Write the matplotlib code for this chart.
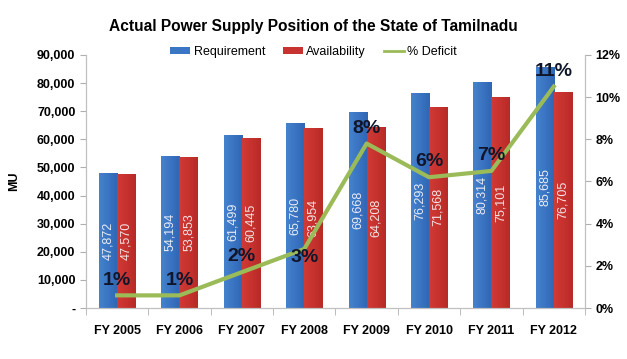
import matplotlib
matplotlib.use("Agg")
import matplotlib.pyplot as plt
import numpy as np
from matplotlib.ticker import FuncFormatter
from matplotlib.colors import LinearSegmentedColormap
from matplotlib.lines import Line2D
from matplotlib.patches import Patch

plt.rcParams['font.family'] = ['Liberation Sans', 'DejaVu Sans']

years = ["FY 2005", "FY 2006", "FY 2007", "FY 2008", "FY 2009", "FY 2010", "FY 2011", "FY 2012"]
requirement = [47872, 54194, 61499, 65780, 69668, 76293, 80314, 85685]
availability = [47570, 53853, 60445, 63954, 64208, 71568, 75101, 76705]
deficit_pct = [0.6, 0.6, 1.7, 2.8, 7.8, 6.2, 6.5, 10.5]
deficit_labels = ["1%", "1%", "2%", "3%", "8%", "6%", "7%", "11%"]

fig = plt.figure(figsize=(6.27, 3.59), dpi=100)
ax = fig.add_axes([0.137, 0.142, 0.796, 0.705])
ax2 = ax.twinx()
ax.set_zorder(1)
ax2.set_zorder(2)
ax.patch.set_visible(False)

x = np.arange(len(years))
w = 0.29
blue_cmap = LinearSegmentedColormap.from_list("b", ["#4582cd", "#3a74c2", "#3066b2"])
red_cmap = LinearSegmentedColormap.from_list("r", ["#d03b36", "#c7322e", "#b62b27"])
blue = "#3b76c4"
red = "#c9332f"
b1 = ax.bar(x - w/2, requirement, w, color="none", label="Requirement")
b2 = ax.bar(x + w/2, availability, w, color="none", label="Availability")

grad = np.linspace(0, 1, 64).reshape(1, -1)
for bars, cmap in ((b1, blue_cmap), (b2, red_cmap)):
    for bar in bars:
        x0, y0 = bar.get_x(), bar.get_y()
        im = ax.imshow(grad, cmap=cmap, aspect="auto", interpolation="bilinear",
                       extent=(x0, x0 + bar.get_width(), y0, y0 + bar.get_height()),
                       zorder=1)
        im.set_clip_path(bar)

for xi, v in zip(x - w/2, requirement):
    ax.text(xi, v/2, f"{v:,}", rotation=90, ha="center", va="center",
            color="#e8ecf5", fontsize=9, zorder=3)
for xi, v in zip(x + w/2, availability):
    ax.text(xi, v/2, f"{v:,}", rotation=90, ha="center", va="center",
            color="#f3e4e4", fontsize=9, zorder=3)

ax.set_ylim(0, 90000)
ax.set_yticks(np.arange(0, 90001, 10000))
ax.yaxis.set_major_formatter(FuncFormatter(lambda v, p: "-" if v == 0 else f"{int(v):,}"))
ax.set_xlim(-0.5, len(years) - 0.5)
ax.set_xticks(x)
ax.set_xticklabels(years)
ax.set_xticks(np.arange(-0.5, len(years)), minor=True)
ax.tick_params(axis="x", which="major", length=0, pad=12)
ax.tick_params(axis="x", which="minor", length=5, color="#b0b0b0")
ax.tick_params(axis="y", length=4, color="#b0b0b0")
for lab in ax.get_xticklabels() + ax.get_yticklabels():
    lab.set_fontweight("bold")
    lab.set_fontsize(9)
ax.set_ylabel("MU", fontweight="bold", fontsize=9, labelpad=12)

l, = ax2.plot(x, deficit_pct, color="#9bbb59", lw=3.0, label="% Deficit")
ax2.set_ylim(0, 12)
ax2.set_yticks(np.arange(0, 13, 2))
ax2.yaxis.set_major_formatter(FuncFormatter(lambda v, p: f"{int(v)}%"))
ax2.tick_params(axis="y", length=4, color="#b0b0b0", labelsize=9)
for lab in ax2.get_yticklabels():
    lab.set_fontweight("bold")

label_dy = [11, 11, 11, -6, 11, 11, 11, 11]
for xi, v, t, dy in zip(x, deficit_pct, deficit_labels, label_dy):
    ax2.annotate(t, (xi, v), xytext=(0, dy), textcoords="offset points",
                 ha="center", va="center", fontsize=14, fontweight="bold", color="#10162a")

for a in (ax, ax2):
    a.spines["top"].set_visible(False)
    for s in ("left", "right", "bottom"):
        a.spines[s].set_color("#c0c0c0")

fig.suptitle("Actual Power Supply Position of the State of Tamilnadu",
             fontsize=11.2, fontweight="bold", y=1 - 27/359, va="center")
handles = [Patch(facecolor=blue), Patch(facecolor=red),
           Line2D([], [], color="#9bbb59", lw=2)]
fig.legend(handles=handles, labels=["Requirement", "Availability", "% Deficit"],
           loc="center", bbox_to_anchor=(0.5, 1 - 52/359), ncol=3, frameon=False,
           fontsize=9, handlelength=1.6, handleheight=0.45, columnspacing=1.4,
           handletextpad=0.3)

fig.savefig("out.png", dpi=100)
